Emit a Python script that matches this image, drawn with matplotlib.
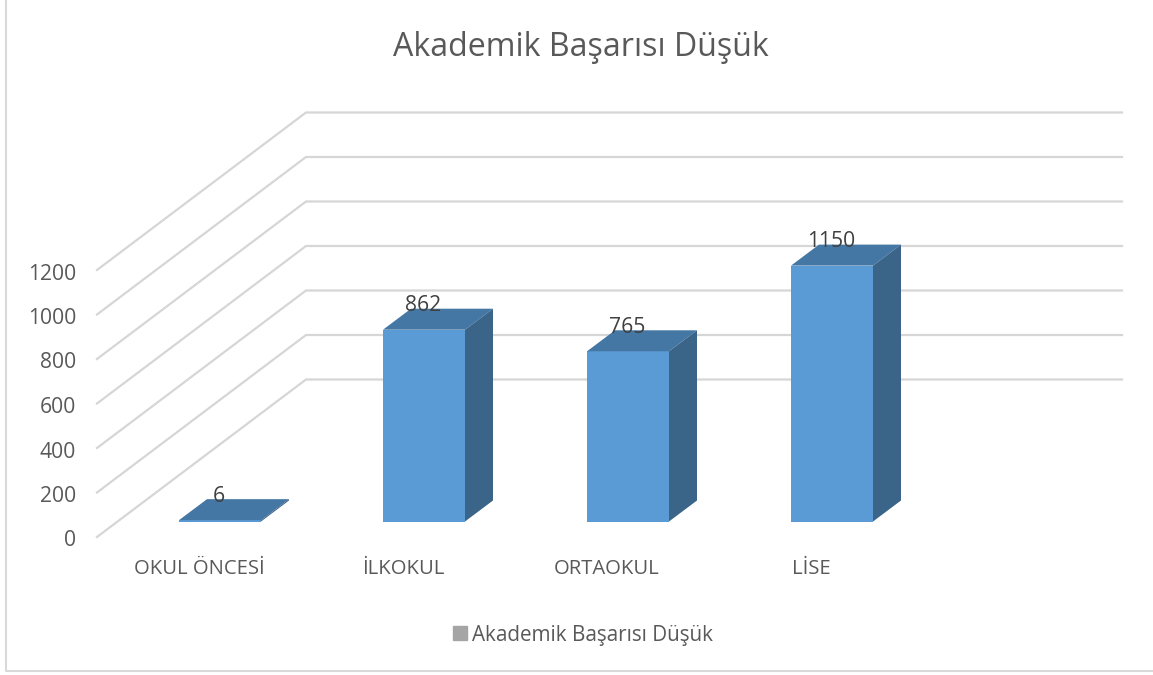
import numpy as np
import matplotlib
matplotlib.use('Agg')
import matplotlib.pyplot as plt
from matplotlib.lines import Line2D
from matplotlib.patches import Patch
from matplotlib.transforms import ScaledTranslation

categories = ['OKUL ÖNCESİ', 'İLKOKUL', 'ORTAOKUL', 'LİSE']
values = [6, 862, 765, 1150]
y_ticks = [0, 200, 400, 600, 800, 1000, 1200]
series_name = 'Akademik Başarısı Düşük'

W, H = 1153, 675
plt.rcParams['font.family'] = ['Open Sans', 'DejaVu Sans']

fig = plt.figure(figsize=(W / 100, H / 100), dpi=100)
# plot box is the front plane of the fake 3d chart
ax = fig.add_axes([97 / W, 1 - 537 / H, 816 / W, 267 / H])
ax.set_xlim(-0.5, 3.5)
ax.set_ylim(0, 1200)
for s in ax.spines.values():
    s.set_visible(False)

# depth of the floor, in data units
px_x = 4 / 816
px_y = 1200 / 267
depth_x = 209 * px_x
depth_y = 157.5 * px_y

# walls and gridlines
for v in y_ticks:
    ax.plot([-0.5, -0.5 + depth_x, 3.5 + depth_x], [v, v + depth_y, v + depth_y],
            color='#d6d6d6', lw=1.6, clip_on=False, zorder=1, solid_joinstyle='miter')

# bars sit part of the way back on the floor
bar_w = 82 * px_x
off_x = 21 * px_x
off_y = 15.5 * px_y
bar_dx = 28 * px_x
bar_dy = 21 * px_y
xs = np.arange(len(categories)) + off_x

ax.bar(xs, values, width=bar_w, bottom=off_y, color='#5b9bd5', clip_on=False, zorder=3)
for x, v in zip(xs, values):
    l, r = x - bar_w / 2, x + bar_w / 2
    top = off_y + v
    ax.fill([l, r, r + bar_dx, l + bar_dx], [top, top, top + bar_dy, top + bar_dy],
            color='#4477a4', lw=0, clip_on=False, zorder=3)
    ax.fill([r, r + bar_dx, r + bar_dx, r], [off_y, off_y + bar_dy, top + bar_dy, top],
            color='#3a6488', lw=0, clip_on=False, zorder=3)
    ax.annotate(str(v), (x, top), xytext=(-1 * 0.72, 24 * 0.72), textcoords='offset points',
                ha='center', va='center', fontsize=15.2, color='#404040', zorder=4,
                annotation_clip=False)

ax.set_yticks(y_ticks)
ax.set_xticks(np.arange(len(categories)))
ax.set_xticklabels(categories)
ax.tick_params(axis='y', length=0, pad=15, labelsize=15.2, labelcolor='#595959')
ax.tick_params(axis='x', length=0, pad=15.5, labelsize=14.6, labelcolor='#595959')
# y labels sit a pixel lower in the original
shift = ScaledTranslation(0, -1.5 / 100, fig.dpi_scale_trans)
for lab in ax.get_yticklabels():
    lab.set_transform(lab.get_transform() + shift)

fig.text(581 / W, 1 - 47 / H, series_name, ha='center', va='center',
         fontsize=23.1, color='#595959')

fig.legend(handles=[Patch(color='#a5a5a5', label=series_name)], loc='center',
           bbox_to_anchor=(583 / W, 1 - 635 / H), frameon=False, fontsize=14.85,
           labelcolor='#595959', handlelength=0.65, handleheight=0.65, handletextpad=0.25)

# chart frame, only left and bottom edges show in the crop
fig.add_artist(Line2D([5.5 / W, 5.5 / W, 1], [1, 1 - 671 / H, 1 - 671 / H],
                      color='#d9d9d9', lw=1.5))

fig.savefig('out.png', dpi=100)
